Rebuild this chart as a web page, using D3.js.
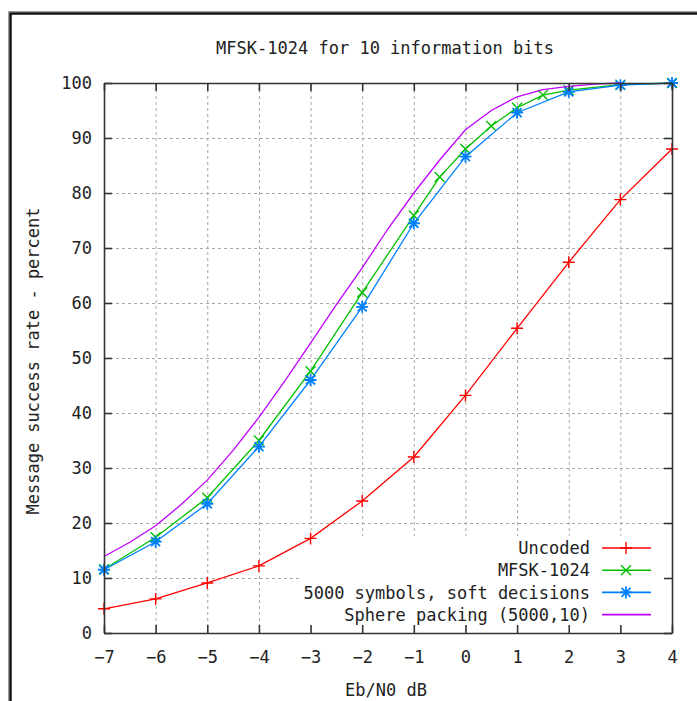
<!DOCTYPE html>
<html lang="en">
<head>
    <meta charset="UTF-8">
    <title>MFSK-1024 for 10 information bits</title>
    <script src="https://d3js.org/d3.v7.min.js"></script>
    <style>
        body {
            margin: 0;
            background: #fff;
        }
        svg text {
            font-family: "DejaVu Sans Mono", "Liberation Mono", monospace;
            font-size: 17px;
            fill: #222;
        }
        .grid line {
            stroke: #a8a8a8;
            stroke-dasharray: 3,3;
        }
        .axis line, .axis path {
            stroke: #333;
            stroke-width: 1.6;
        }
    </style>
</head>
<body>
    <svg id="chart" width="697" height="701"></svg>
    <script>
        // Values
        const uncodedX = [-7, -6, -5, -4, -3, -2, -1, 0, 1, 2, 3, 4];
        const uncodedY = [4.4, 6.2, 9.1, 12.2, 17.2, 24.0, 32.0, 43.2, 55.4, 67.4, 78.8, 88.0];

        const mfskX = [-7, -6, -5, -4, -3, -2, -1, -0.5, 0, 0.5, 1, 1.5, 2, 3, 4];
        const mfskY = [11.6, 17.4, 24.6, 35.0, 47.6, 61.9, 75.9, 82.9, 88.0, 92.2, 95.5, 97.8, 98.7, 99.7, 100];

        const softX = [-7, -6, -5, -4, -3, -2, -1, 0, 1, 2, 3, 4];
        const softY = [11.5, 16.6, 23.5, 33.9, 46.0, 59.3, 74.5, 86.6, 94.6, 98.4, 99.6, 100];

        const sphereX = [-7, -6.5, -6, -5.5, -5, -4.5, -4, -3.5, -3, -2.5, -2, -1.5, -1, -0.5, 0, 0.5, 1, 1.5, 2, 2.5, 3];
        const sphereY = [13.9, 16.5, 19.5, 23.4, 27.8, 33.2, 39.2, 45.8, 52.7, 59.7, 66.4, 73.5, 80.0, 86.0, 91.5, 95.0, 97.5, 98.8, 99.4, 99.8, 100];

        const seriesNames = ["Uncoded", "MFSK-1024", "5000 symbols, soft decisions", "Sphere packing (5000,10)"];
        const seriesColors = ["#ff0000", "#00c000", "#0080ff", "#c000ff"];
        const seriesMarkers = ["plus", "cross", "star", "none"];

        const xTicks = [-7, -6, -5, -4, -3, -2, -1, 0, 1, 2, 3, 4];
        const yTicks = [0, 10, 20, 30, 40, 50, 60, 70, 80, 90, 100];

        const series = [
            { xs: uncodedX, ys: uncodedY },
            { xs: mfskX, ys: mfskY },
            { xs: softX, ys: softY },
            { xs: sphereX, ys: sphereY }
        ].map((s, i) => ({
            name: seriesNames[i],
            color: seriesColors[i],
            marker: seriesMarkers[i],
            points: s.xs.map((x, j) => ({ x: x, y: s.ys[j] }))
        }));

        // Plot box
        const plotLeft = 104, plotRight = 672, plotTop = 83, plotBottom = 633;
        const svg = d3.select("#chart");

        // Outer picture frame
        svg.append("path")
            .attr("d", "M8.5,701V11.5H697")
            .attr("fill", "none")
            .attr("stroke", "#999")
            .attr("stroke-width", 1);
        svg.append("path")
            .attr("d", "M10.5,701V13.5H697")
            .attr("fill", "none")
            .attr("stroke", "#111")
            .attr("stroke-width", 2.5);

        const x = d3.scaleLinear().domain([-7, 4]).range([plotLeft, plotRight]);
        const y = d3.scaleLinear().domain([0, 100]).range([plotBottom, plotTop]);

        // Grid
        svg.append("g")
            .attr("class", "grid")
            .attr("transform", `translate(0,${plotBottom})`)
            .call(d3.axisBottom(x).tickValues(xTicks.slice(1, -1)).tickSize(-(plotBottom - plotTop)).tickFormat(""))
            .call(g => g.select(".domain").remove());
        svg.append("g")
            .attr("class", "grid")
            .attr("transform", `translate(${plotLeft},0)`)
            .call(d3.axisLeft(y).tickValues(yTicks.slice(1, -1)).tickSize(-(plotRight - plotLeft)).tickFormat(""))
            .call(g => g.select(".domain").remove());

        // Key box (opaque, hides the grid behind the key)
        svg.append("rect")
            .attr("x", 300)
            .attr("y", 536)
            .attr("width", plotRight - 300)
            .attr("height", plotBottom - 536)
            .attr("fill", "#fff");

        // Curves
        const line = d3.line().x(d => x(d.x)).y(d => y(d.y));
        const markerPath = {
            plus: "M-6,0H6M0,-6V6",
            cross: "M-5,-5L5,5M-5,5L5,-5",
            star: "M-6,0H6M0,-6V6M-4.5,-4.5L4.5,4.5M-4.5,4.5L4.5,-4.5",
            none: ""
        };

        series.forEach(s => {
            svg.append("path")
                .datum(s.points)
                .attr("fill", "none")
                .attr("stroke", s.color)
                .attr("stroke-width", 1.3)
                .attr("d", line);
            if (s.marker !== "none") {
                svg.selectAll(null)
                    .data(s.points)
                    .enter()
                    .append("path")
                    .attr("transform", d => `translate(${x(d.x)},${y(d.y)})`)
                    .attr("d", markerPath[s.marker])
                    .attr("fill", "none")
                    .attr("stroke", s.color)
                    .attr("stroke-width", s.marker === "star" ? 1.8 : 1.4);
            }
        });

        const key = svg.append("g");
        series.forEach((s, i) => {
            const cy = 548 + i * 22.2;
            key.append("text")
                .attr("x", 590)
                .attr("y", cy)
                .attr("dy", "0.36em")
                .attr("text-anchor", "end")
                .text(s.name);
            key.append("line")
                .attr("x1", 602).attr("x2", 651)
                .attr("y1", cy).attr("y2", cy)
                .attr("stroke", s.color)
                .attr("stroke-width", 1.6);
            if (s.marker !== "none") {
                key.append("path")
                    .attr("transform", `translate(626,${cy})`)
                    .attr("d", markerPath[s.marker])
                    .attr("fill", "none")
                    .attr("stroke", s.color)
                    .attr("stroke-width", s.marker === "star" ? 1.8 : 1.4);
            }
        });

        // Axes with inward ticks on all four sides
        svg.append("g")
            .attr("class", "axis")
            .attr("transform", `translate(0,${plotBottom})`)
            .call(d3.axisBottom(x).tickValues(xTicks).tickSize(-8).tickSizeOuter(0).tickPadding(18));
        svg.append("g")
            .attr("class", "axis")
            .attr("transform", `translate(${plotLeft},0)`)
            .call(d3.axisLeft(y).tickValues(yTicks).tickSize(-8).tickSizeOuter(0).tickPadding(12));
        svg.append("g")
            .attr("class", "axis")
            .attr("transform", `translate(0,${plotTop})`)
            .call(d3.axisTop(x).tickValues(xTicks).tickSize(-8).tickSizeOuter(0).tickFormat(""));
        svg.append("g")
            .attr("class", "axis")
            .attr("transform", `translate(${plotRight},0)`)
            .call(d3.axisRight(y).tickValues(yTicks).tickSize(-8).tickSizeOuter(0).tickFormat(""));

        svg.selectAll(".axis text")
            .attr("font-family", null)
            .attr("font-size", null)
            .attr("fill", "#222");

        // Titles
        svg.append("text")
            .attr("x", 385)
            .attr("y", 54)
            .attr("text-anchor", "middle")
            .text("MFSK-1024 for 10 information bits");
        svg.append("text")
            .attr("x", 386)
            .attr("y", 696)
            .attr("text-anchor", "middle")
            .text("Eb/N0 dB");
        svg.append("text")
            .attr("transform", "translate(39,361) rotate(-90)")
            .attr("text-anchor", "middle")
            .text("Message success rate - percent");
    </script>
</body>
</html>
